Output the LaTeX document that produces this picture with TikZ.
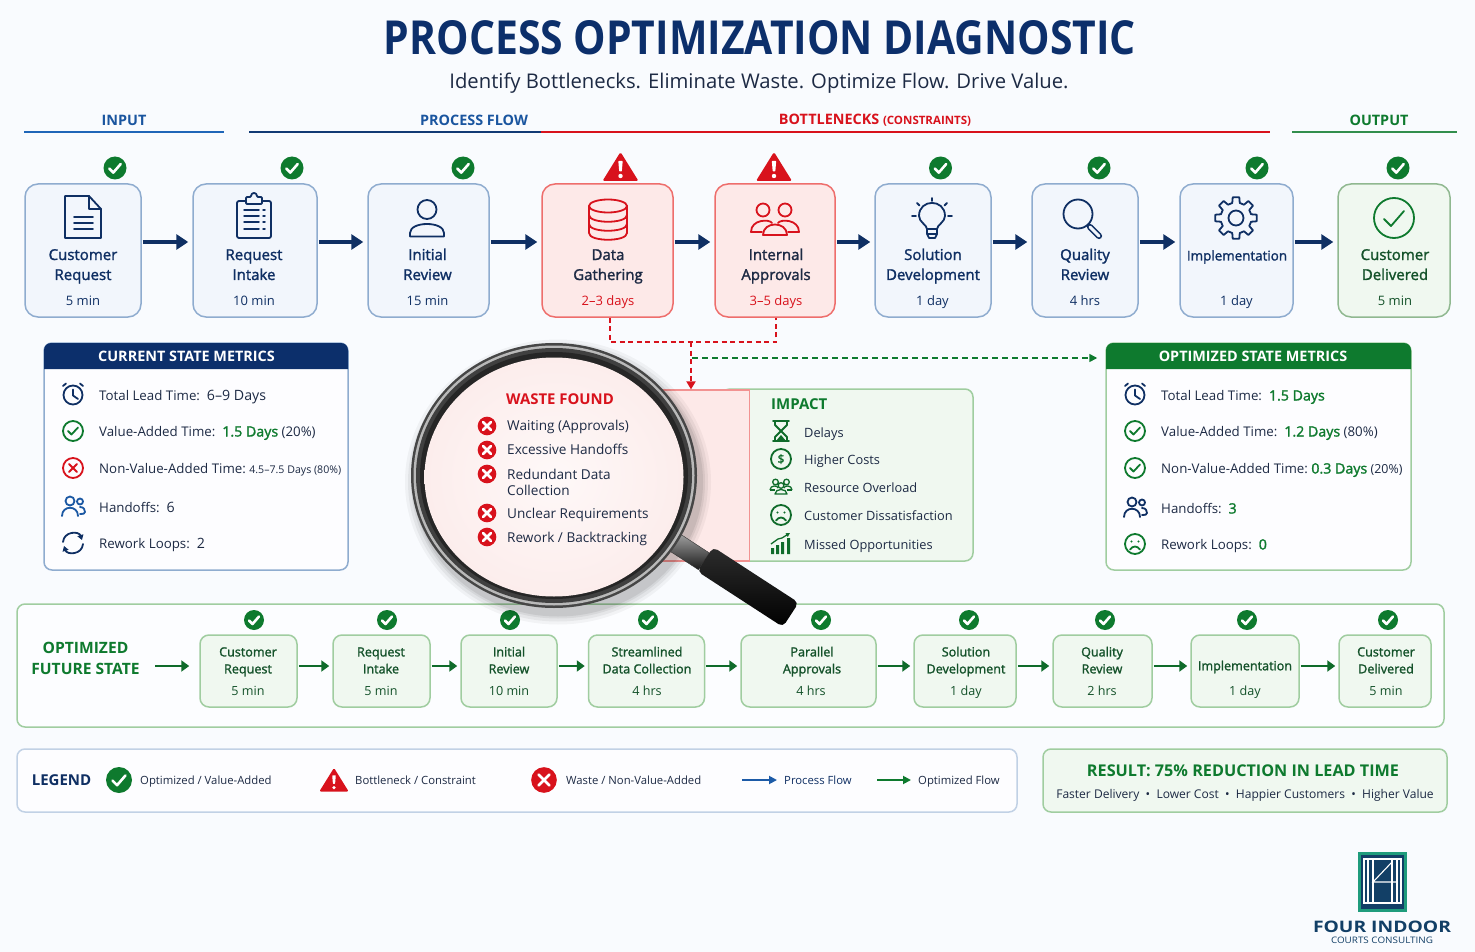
\documentclass[tikz,border=0pt]{standalone}
\usepackage{fontspec}
\usepackage{xcolor}
\setmainfont{Open Sans}
\newfontfamily\medfont[FakeBold=1.6]{Open Sans}
\usetikzlibrary{arrows.meta,shapes.geometric}
\definecolor{pagebg}{HTML}{F9FBFE}
\definecolor{navyc}{HTML}{0F2F63}
\definecolor{headnavy}{HTML}{0C2F6B}
\definecolor{inkc}{HTML}{1D2A44}
\definecolor{blueline}{HTML}{1F66B8}
\definecolor{blueedge}{HTML}{8FACCF}
\definecolor{bluefill}{HTML}{F2F6FC}
\definecolor{redc}{HTML}{D8121C}
\definecolor{rededge}{HTML}{EE6E6C}
\definecolor{redfill}{HTML}{FDE9E8}
\definecolor{glassedge}{HTML}{FCEDEC}
\definecolor{okc}{HTML}{0E7A2E}
\definecolor{okdark}{HTML}{14522A}
\definecolor{okarrow}{HTML}{0F6B2A}
\definecolor{okedge}{HTML}{A0CDA0}
\definecolor{okfill}{HTML}{F0F8F0}
\definecolor{logogreen}{HTML}{1F9C7C}
\definecolor{logonavy}{HTML}{123F66}
\newcommand{\okval}[1]{{\fontsize{14.2}{16}\selectfont\medfont\color{okc}#1}}
\newcommand{\inkval}[1]{{\fontsize{14.2}{16}\selectfont #1}}
\tikzset{
  stepbox/.style={draw=blueedge,fill=bluefill,line width=1.5pt,rounded corners=13pt,minimum height=133pt},
  redbox/.style={stepbox,draw=rededge,fill=redfill},
  donebox/.style={stepbox,draw=okedge!90!black,fill=okfill},
  futbox/.style={draw=okedge,fill=okfill,line width=1.5pt,rounded corners=9pt,minimum height=72pt},
  panel/.style={draw=blueedge,fill=white!60!pagebg,line width=1.5pt,rounded corners=8pt},
  okpanel/.style={panel,draw=okedge},
  steplabel/.style={align=center,text=navyc,inner sep=0pt,yshift=-1pt,font=\fontsize{15}{20}\selectfont\medfont},
  steptime/.style={text=navyc,inner sep=0pt,yshift=-2pt,text height=10pt,text depth=3pt,font=\fontsize{13}{16}\selectfont},
  futlabel/.style={align=center,text=okdark,inner sep=0pt,yshift=-1pt,font=\fontsize{12.6}{17}\selectfont\medfont},
  futtime/.style={text=okdark,inner sep=0pt,yshift=-2pt,text height=10pt,text depth=3pt,font=\fontsize{12.6}{16}\selectfont},
  headtext/.style={inner sep=0pt,yshift=-1pt,font=\fontsize{14.4}{17}\selectfont\bfseries},
  rowtext/.style={anchor=west,text=inkc,inner sep=0pt,yshift=-2pt,text height=10pt,text depth=3pt,font=\fontsize{13.3}{16}\selectfont},
  wastetext/.style={rowtext,font=\fontsize{13.6}{16}\selectfont},
  impacttext/.style={rowtext,font=\fontsize{12.8}{16}\selectfont},
  legtext/.style={anchor=west,text=inkc,inner sep=0pt,yshift=-1pt,text height=9pt,text depth=3pt,font=\fontsize{11.3}{14}\selectfont},
  flow/.style={-{Triangle[length=12pt,width=15pt]},line width=3pt,draw=navyc,shorten <=1pt,shorten >=4pt},
  fflow/.style={-{Triangle[length=8pt,width=11pt]},line width=2.5pt,draw=okarrow,shorten <=1pt,shorten >=3pt},
  legflow/.style={-{Triangle[length=8pt,width=8pt]},line width=1.8pt,shorten >=7pt},
  reddash/.style={draw=redc,line width=1.8pt,dash pattern=on 5pt off 3.5pt},
  greendash/.style={draw=okc,line width=1.6pt,dash pattern=on 6pt off 4pt},
  ln/.style={line width=1.8pt,line join=round,line cap=round},
  pics/okbadge/.style={code={
    \fill[okc] (0,0) circle (10);
    \draw[white,line width=2.6pt,line join=round,line cap=round] (-5,.5) -- (-1.5,4) -- (5,-3.5);}},
  pics/warnbadge/.style={code={
    \fill[redc,rounded corners=1.5pt] (0,-16) -- (18,13) -- (-18,13) -- cycle;
    \fill[white,rounded corners=.6pt] (-2.2,-7) -- (2.2,-7) -- (1.3,3.5) -- (-1.3,3.5) -- cycle;
    \fill[white] (0,8) circle (2.2);}},
  pics/wastebadge/.style={code={
    \fill[redc] (0,0) circle (9.5);
    \draw[white,line width=2.8pt,line cap=round] (-4,-4) -- (4,4) (4,-4) -- (-4,4);}},
  pics/docicon/.style={code={
    \draw[ln] (-18,-21) -- (6,-21) -- (18,-8) -- (18,21) -- (-18,21) -- cycle;
    \draw[ln] (6,-21) -- (6,-8) -- (18,-8);
    \draw[ln] (-9,0) -- (10,0) (-9,6) -- (10,6) (-9,12) -- (10,12);}},
  pics/clipicon/.style={code={
    \draw[ln,rounded corners=2pt] (-17,-16) rectangle (17,21);
    \draw[ln,fill=bluefill,rounded corners=1pt] (-8,-17) -- (-8,-20) -- (-3,-20) .. controls (-3,-25) and (3,-25) .. (3,-20) -- (8,-20) -- (8,-13) -- (-8,-13) -- cycle;
    \foreach \yy in {-7,-1,5,12} {\draw[ln,line width=1.5pt] (-10,\yy) -- (5,\yy) (9,\yy) -- (11,\yy);}}},
  pics/personicon/.style={code={
    \draw[ln] (0,-8.5) circle (9.5);
    \draw[ln] (-17,18.5) -- (-17,15) .. controls (-17,3) and (17,3) .. (17,15) -- (17,18.5) -- cycle;}},
  pics/dbicon/.style={code={
    \draw[ln] (0,-13) ellipse (19 and 6.5);
    \draw[ln] (-19,-13) -- (-19,14) .. controls (-19,23) and (19,23) .. (19,14) -- (19,-13);
    \draw[ln] (-19,-4) .. controls (-19,5) and (19,5) .. (19,-4);
    \draw[ln] (-19,5) .. controls (-19,14) and (19,14) .. (19,5);}},
  pics/groupicon/.style={code={
    \draw[ln] (-12,-8) circle (6.5) (10,-8) circle (6.5);
    \draw[ln] (-24,14) .. controls (-24,1) and (-5,1) .. (-3,5);
    \draw[ln] (-24,14) -- (-13,14) (24,14) -- (13,14);
    \draw[ln] (24,14) .. controls (24,1) and (5,1) .. (3,5);
    \draw[ln] (-12,17) .. controls (-12,3) and (12,3) .. (12,17) -- cycle;}},
  pics/bulbicon/.style={code={
    \draw[ln] (-5,10) .. controls (-5,6) and (-13,3) .. (-13,-3) .. controls (-13,-20.5) and (13,-20.5) .. (13,-3) .. controls (13,3) and (5,6) .. (5,10) -- cycle;
    \draw[ln] (-5,10) -- (-5,15) -- (-3,19) -- (3,19) -- (5,15) -- (5,10) (-5,15) -- (5,15);
    \draw[ln] (0,-21) -- (0,-18) (-20,-3) -- (-16,-3) (20,-3) -- (16,-3) (-15,-16) -- (-12.5,-13.5) (15,-16) -- (12.5,-13.5);}},
  pics/magicon/.style={code={
    \draw[ln] (0,0) circle (14.5);
    \draw[line width=1.6pt,double=bluefill,double distance=3pt,line cap=round] (12,13) -- (21,22);}},
  pics/gearicon/.style={code={
    \draw[ln] (-14:15.5) \foreach \aa in {0,45,...,315} {-- ({\aa-14}:15.5) -- ({\aa-9}:21) -- ({\aa+9}:21) -- ({\aa+14}:15.5)} -- cycle;
    \draw[ln] (0,0) circle (7.5);}},
  pics/bigcheck/.style={code={
    \draw[ln] (0,0) circle (20);
    \draw[ln] (-10,1) -- (-3,8) -- (10,-7);}},
  pics/clockicon/.style={code={
    \draw[ln] (0,1) circle (9.5);
    \draw[ln] (0,-4.5) -- (0,1.5) -- (5,5);
    \draw[ln] (-10,-8) -- (-7,-10.5) (10,-8) -- (7,-10.5);}},
  pics/tickring/.style={code={
    \draw[ln] (0,0) circle (10);
    \draw[ln] (-5,0) -- (-1.5,3.5) -- (5,-3.5);}},
  pics/crossring/.style={code={
    \draw[ln] (0,0) circle (10);
    \draw[ln] (-4,-4) -- (4,4) (4,-4) -- (-4,4);}},
  pics/teamicon/.style={code={
    \draw[ln] (-3,-6) circle (4.5) (7,-5.5) circle (3);
    \draw[ln] (-11,9) .. controls (-11,-2) and (5,-2) .. (5,9);
    \draw[ln] (7,0) .. controls (11,0) and (12,3) .. (12,5) .. controls (12,7) and (10,7) .. (7,7);}},
  pics/loopicon/.style={code={
    \draw[ln,-{Triangle[length=5pt,width=6pt]}] (-10,-1) .. controls (-9,-12) and (6,-12) .. (9,-3);
    \draw[ln,-{Triangle[length=5pt,width=6pt]}] (10,1) .. controls (9,12) and (-6,12) .. (-9,3);}},
  pics/sadicon/.style={code={
    \draw[ln] (0,0) circle (10);
    \fill (-3.5,-2.5) circle (1.2) (3.5,-2.5) circle (1.2);
    \draw[ln] (-5,5.5) .. controls (-2,1.5) and (2,1.5) .. (5,5.5);}},
  pics/glassicon/.style={code={
    \draw[ln] (-8,-10) -- (8,-10) (-8,10) -- (8,10);
    \draw[ln] (-6,-10) -- (-6,-6) -- (6,6) -- (6,10) (6,-10) -- (6,-6) -- (-6,6) -- (-6,10);
    \fill (-5,10) -- (0,4) -- (5,10) -- cycle;}},
  pics/dollaricon/.style={code={
    \draw[ln] (0,0) circle (10);
    \node[inner sep=0pt,font=\fontsize{12}{12}\selectfont\medfont] (dollar) at (0,0) {\$};}},
  pics/crowdicon/.style={code={
    \draw[line width=1.3pt] (-5.5,-5) circle (2.8) (5.5,-5) circle (2.8) (0,-1.5) circle (2.8);
    \draw[line width=1.3pt,line join=round] (-11,3) .. controls (-11,-2) and (-3,-2) .. (-3,1) (11,3) .. controls (11,-2) and (3,-2) .. (3,1);
    \draw[line width=1.3pt,line join=round] (-11,3) -- (-6,3) (11,3) -- (6,3);
    \draw[line width=1.3pt,line join=round] (-6,7) .. controls (-6,1) and (6,1) .. (6,7) -- cycle;}},
  pics/charticon/.style={code={
    \fill (-10,4) rectangle (-7,10) (-5,1) rectangle (-2,10) (0,-2) rectangle (3,10) (6,-6) rectangle (9,10);
    \draw[line width=1.3pt,-{Triangle[length=4pt,width=4pt]}] (-10,0) -- (-3,-5) -- (1,-6) -- (9,-11);}},
}
\begin{document}
\begin{tikzpicture}[x=1pt,y=-1pt]
    \useasboundingbox (0,0) rectangle (1475,952);
    \fill[pagebg] (0,0) rectangle (1475,952);

    % title
    \node[inner sep=0pt,text=headnavy] (title) at (760,38) {\resizebox{752pt}{34pt}{\bfseries PROCESS OPTIMIZATION DIAGNOSTIC}};
    \node[inner sep=0pt,yshift=-2pt,text=inkc,font=\fontsize{20.25}{24}\selectfont] (subtitle) at (759,81) {Identify Bottlenecks. Eliminate Waste. Optimize Flow. Drive Value.};

    % section heads
    \node[headtext,text=blueline!70!navyc] (hinput) at (124,119) {INPUT};
    \node[headtext,text=blueline!70!navyc] (hflow) at (474,119) {PROCESS FLOW};
    \node[headtext,text=redc] (hneck) at (875,119) {BOTTLENECKS {\fontsize{11.5}{14}\selectfont (CONSTRAINTS)}};
    \node[headtext,text=okc] (houtput) at (1379,119) {OUTPUT};
    \draw[blueline,line width=1.5pt] (24,132) -- (224,132);
    \draw[navyc!80!blueline,line width=1.5pt] (249,132) -- (541,132);
    \draw[redc,line width=1.5pt] (541,132) -- (1270,132);
    \draw[okc!85!white,line width=1.5pt] (1292,132) -- (1457,132);

    % current process
    \node[stepbox,minimum width=116pt] (b1) at (83,250.5) {};
    \node[stepbox,minimum width=124pt] (b2) at (255,250.5) {};
    \node[stepbox,minimum width=121pt] (b3) at (428.5,250.5) {};
    \node[redbox,minimum width=131pt] (b4) at (607.5,250.5) {};
    \node[redbox,minimum width=120pt] (b5) at (775,250.5) {};
    \node[stepbox,minimum width=116pt] (b6) at (933,250.5) {};
    \node[stepbox,minimum width=106pt] (b7) at (1085,250.5) {};
    \node[stepbox,minimum width=113pt] (b8) at (1236.5,250.5) {};
    \node[donebox,minimum width=112pt] (b9) at (1394,250.5) {};

    \node[steplabel] (l1) at (83,265) {Customer\strut\\Request\strut};
    \node[steplabel] (l2) at (254,265) {Request\strut\\Intake\strut};
    \node[steplabel] (l3) at (427.5,265) {Initial\strut\\Review\strut};
    \node[steplabel,text=inkc] (l4) at (608,265) {Data\strut\\Gathering\strut};
    \node[steplabel,text=inkc] (l5) at (776,265) {Internal\strut\\Approvals\strut};
    \node[steplabel] (l6) at (933,265) {Solution\strut\\Development\strut};
    \node[steplabel] (l7) at (1085,265) {Quality\strut\\Review\strut};
    \node[steplabel,font=\fontsize{13.4}{20}\selectfont\medfont] (l8) at (1237,256) {Implementation};
    \node[steplabel,text=okdark] (l9) at (1395,265) {Customer\strut\\Delivered\strut};

    \node[steptime] (t1) at (83,300) {5 min};
    \node[steptime] (t2) at (254,300) {10 min};
    \node[steptime] (t3) at (427.5,300) {15 min};
    \node[steptime,text=redc] (t4) at (608,300) {2--3 days};
    \node[steptime,text=redc] (t5) at (776,300) {3--5 days};
    \node[steptime] (t6) at (932.5,300) {1 day};
    \node[steptime] (t7) at (1085,300) {4 hrs};
    \node[steptime] (t8) at (1236.5,300) {1 day};
    \node[steptime,text=okdark] (t9) at (1395,300) {5 min};

    \pic[navyc] at (83,217) {docicon};
    \pic[navyc] at (254,217) {clipicon};
    \pic[navyc] at (427,218) {personicon};
    \pic[redc] at (608,219) {dbicon};
    \pic[redc] at (775,218) {groupicon};
    \pic[navyc] at (932,219) {bulbicon};
    \pic[navyc] at (1078,214) {magicon};
    \pic[navyc] at (1236,218) {gearicon};
    \pic[okc] at (1394,218) {bigcheck};

    \pic[scale=1.15] at (115,168) {okbadge};
    \pic[scale=1.15] at (292,168) {okbadge};
    \pic[scale=1.15] at (463,168) {okbadge};
    \pic at (620.5,168) {warnbadge};
    \pic at (774,168) {warnbadge};
    \pic[scale=1.15] at (940.5,168) {okbadge};
    \pic[scale=1.15] at (1099,168) {okbadge};
    \pic[scale=1.15] at (1257,168) {okbadge};
    \pic[scale=1.15] at (1398,168) {okbadge};

    \draw[flow] ([yshift=8.5pt]b1.east) -- ([yshift=8.5pt]b2.west);
    \draw[flow] ([yshift=8.5pt]b2.east) -- ([yshift=8.5pt]b3.west);
    \draw[flow] ([yshift=8.5pt]b3.east) -- ([yshift=8.5pt]b4.west);
    \draw[flow] ([yshift=8.5pt]b4.east) -- ([yshift=8.5pt]b5.west);
    \draw[flow] ([yshift=8.5pt]b5.east) -- ([yshift=8.5pt]b6.west);
    \draw[flow] ([yshift=8.5pt]b6.east) -- ([yshift=8.5pt]b7.west);
    \draw[flow] ([yshift=8.5pt]b7.east) -- ([yshift=8.5pt]b8.west);
    \draw[flow] ([yshift=8.5pt]b8.east) -- ([yshift=8.5pt]b9.west);

    % current metrics
    \node[panel,minimum width=304pt,minimum height=227pt] (curpanel) at (196,456.5) {};
    \fill[headnavy] (44,369) {[rounded corners=7pt] -- (44,343) -- (348,343)} -- (348,369) -- cycle;
    \node[headtext,text=white,yshift=1pt] (curhead) at (186.5,356) {CURRENT STATE METRICS};
    \pic[navyc] at (73,394) {clockicon};
    \pic[okc] at (73,431) {tickring};
    \pic[redc] at (73,468) {crossring};
    \pic[blueline!75!navyc] at (73,507) {teamicon};
    \pic[navyc] at (73,543) {loopicon};
    \node[rowtext] (c1) at (99,395) {Total Lead Time:\ \ \inkval{6--9 Days}};
    \node[rowtext] (c2) at (99,431) {Value-Added Time:\ \ \okval{1.5 Days} (20\%)};
    \node[rowtext] (c3) at (99,468) {Non-Value-Added Time:\ {\fontsize{10.6}{12}\selectfont 4.5--7.5 Days (80\%)}};
    \node[rowtext] (c4) at (99,507) {Handoffs:\ \ \inkval{6}};
    \node[rowtext] (c5) at (99,543) {Rework Loops:\ \ \inkval{2}};

    % optimized metrics
    \node[okpanel,minimum width=305pt,minimum height=227pt] (optpanel) at (1258.5,456.5) {};
    \fill[okc] (1106,369) {[rounded corners=7pt] -- (1106,343) -- (1411,343)} -- (1411,369) -- cycle;
    \node[headtext,text=white,yshift=1pt] (opthead) at (1253,356) {OPTIMIZED STATE METRICS};
    \pic[navyc] at (1135,394) {clockicon};
    \pic[okc] at (1135,431) {tickring};
    \pic[okc] at (1135,468) {tickring};
    \pic[navyc] at (1135,508) {teamicon};
    \pic[okc] at (1135,544) {sadicon};
    \node[rowtext] (o1) at (1161,395) {Total Lead Time:\ \ \okval{1.5 Days}};
    \node[rowtext] (o2) at (1161,431) {Value-Added Time:\ \ \okval{1.2 Days} (80\%)};
    \node[rowtext] (o3) at (1161,468) {Non-Value-Added Time:\ \okval{0.3 Days} {\fontsize{12.4}{12}\selectfont(20\%)}};
    \node[rowtext] (o4) at (1161,508) {Handoffs:\ \ \okval{3}};
    \node[rowtext] (o5) at (1161,544) {Rework Loops:\ \ \okval{0}};

    % impact panel and waste panel behind the lens
    \node[okpanel,fill=okfill,minimum width=251pt,minimum height=172pt] (impact) at (847.5,475) {};
    \node[fill=redfill,draw=rededge!75!white,line width=1.2pt,minimum width=109pt,minimum height=171pt] (waste) at (695,475.5) {};
    \node[anchor=west,inner sep=0pt,text=okc,font=\fontsize{15}{18}\selectfont\bfseries] (imphead) at (771,404) {IMPACT};
    \pic[okarrow] at (781,431) {glassicon};
    \pic[okarrow] at (781,459) {dollaricon};
    \pic[okarrow] at (781,487) {crowdicon};
    \pic[okarrow] at (781,515) {sadicon};
    \pic[okarrow] at (781,544) {charticon};
    \node[impacttext] (i1) at (804,432) {Delays};
    \node[impacttext] (i2) at (804,459) {Higher Costs};
    \node[impacttext] (i3) at (804,487) {Resource Overload};
    \node[impacttext] (i4) at (804,515) {Customer Dissatisfaction};
    \node[impacttext] (i5) at (804,544) {Missed Opportunities};

    % dashed links
    \coordinate (split) at (691,342);
    \coordinate (gostart) at (692,358);
    \draw[reddash] ([xshift=2.5pt]b4.south) -- ++(0,24.5) -| ([xshift=1pt]b5.south);
    \draw[reddash,-{Triangle[length=8pt,width=9pt]}] (split) -- (split |- waste.north);
    \draw[greendash,-{Triangle[length=8pt,width=8pt]},shorten >=8pt] (gostart) -- (gostart -| optpanel.west);

    % future state
    \node[okpanel,fill=white!55!pagebg,minimum width=1427pt,minimum height=123pt] (future) at (730.5,665.5) {};
    \node[futbox,minimum width=97pt] (f1) at (248.5,671) {};
    \node[futbox,minimum width=97pt] (f2) at (381.5,671) {};
    \node[futbox,minimum width=96pt] (f3) at (509,671) {};
    \node[futbox,minimum width=116pt] (f4) at (646.5,671) {};
    \node[futbox,minimum width=135pt] (f5) at (808.5,671) {};
    \node[futbox,minimum width=102pt] (f6) at (965,671) {};
    \node[futbox,minimum width=99pt] (f7) at (1102.5,671) {};
    \node[futbox,minimum width=108pt] (f8) at (1245,671) {};
    \node[futbox,minimum width=92pt] (f9) at (1385,671) {};
    \node[align=center,inner sep=0pt,yshift=-1pt,text=okc,font=\fontsize{15.6}{20.5}\selectfont\bfseries] (flabel) at (85.5,659) {OPTIMIZED\strut\\FUTURE STATE\strut};

    \node[futlabel] (g1) at (248,660.5) {Customer\strut\\Request\strut};
    \node[futlabel] (g2) at (381,660.5) {Request\strut\\Intake\strut};
    \node[futlabel] (g3) at (509,660.5) {Initial\strut\\Review\strut};
    \node[futlabel] (g4) at (647,660.5) {Streamlined\strut\\Data Collection\strut};
    \node[futlabel] (g5) at (812,660.5) {Parallel\strut\\Approvals\strut};
    \node[futlabel] (g6) at (966,660.5) {Solution\strut\\Development\strut};
    \node[futlabel] (g7) at (1102,660.5) {Quality\strut\\Review\strut};
    \node[futlabel] (g8) at (1245,666) {Implementation};
    \node[futlabel] (g9) at (1386,660.5) {Customer\strut\\Delivered\strut};

    \node[futtime] (h1) at (248,690) {5 min};
    \node[futtime] (h2) at (381,690) {5 min};
    \node[futtime] (h3) at (509,690) {10 min};
    \node[futtime] (h4) at (647,690) {4 hrs};
    \node[futtime] (h5) at (811,690) {4 hrs};
    \node[futtime] (h6) at (966,690) {1 day};
    \node[futtime] (h7) at (1102,690) {2 hrs};
    \node[futtime] (h8) at (1245,690) {1 day};
    \node[futtime] (h9) at (1386,690) {5 min};

    \pic at (254,620) {okbadge};
    \pic at (387,620) {okbadge};
    \pic at (510,620) {okbadge};
    \pic at (648,620) {okbadge};
    \pic at (821,620) {okbadge};
    \pic at (969,620) {okbadge};
    \pic at (1105,620) {okbadge};
    \pic at (1247,620) {okbadge};
    \pic at (1388,620) {okbadge};

    \coordinate (fstart) at (155,666);
    \draw[fflow,shorten <=0pt,shorten >=10pt] (fstart) -- (fstart -| f1.west);
    \draw[fflow] ([yshift=5pt]f1.east) -- ([yshift=5pt]f2.west);
    \draw[fflow] ([yshift=5pt]f2.east) -- ([yshift=5pt]f3.west);
    \draw[fflow] ([yshift=5pt]f3.east) -- ([yshift=5pt]f4.west);
    \draw[fflow] ([yshift=5pt]f4.east) -- ([yshift=5pt]f5.west);
    \draw[fflow] ([yshift=5pt]f5.east) -- ([yshift=5pt]f6.west);
    \draw[fflow] ([yshift=5pt]f6.east) -- ([yshift=5pt]f7.west);
    \draw[fflow] ([yshift=5pt]f7.east) -- ([yshift=5pt]f8.west);
    \draw[fflow] ([yshift=5pt]f8.east) -- ([yshift=5pt]f9.west);

    % magnifier
    \foreach \gap/\opa in {10/.04,7/.05,4/.06,2/.07} {
      \fill[black,opacity=\opa] (558,482) ellipse ({143+\gap} and {132.5+\gap});
    }
    \node[rotate=-33,draw=gray!40!black,top color=gray!70,bottom color=gray!20!black,minimum width=38pt,minimum height=20pt,inner sep=0pt] (collar) at (688,551) {};
    \node[rotate=-33,top color=gray!35!black,middle color=black!90,bottom color=black,rounded corners=5pt,minimum width=102pt,minimum height=29pt,inner sep=0pt] (grip) at (748,587) {};
    \fill[gray!55!black] (554,475.5) ellipse (143 and 132.5);
    \fill[gray!55] (554,475.5) ellipse (140.5 and 130);
    \fill[gray!50!black] (554,475.5) ellipse (138 and 127.5);
    \fill[black!85] (554,475.5) ellipse (134 and 123.5);
    \shade[inner color=redfill!30!white,outer color=glassedge] (554,477) ellipse (129.5 and 119.5);

    \node[anchor=west,inner sep=0pt,text=redc,font=\fontsize{14.9}{18}\selectfont\bfseries] (wastehead) at (506,399) {WASTE FOUND};
    \pic[scale=.98] at (487,426) {wastebadge};
    \pic[scale=.98] at (487,450) {wastebadge};
    \pic[scale=.98] at (487,474) {wastebadge};
    \pic[scale=.98] at (487,513) {wastebadge};
    \pic[scale=.98] at (487,537) {wastebadge};
    \node[wastetext] (w1) at (507,425) {Waiting (Approvals)};
    \node[wastetext] (w2) at (507,449) {Excessive Handoffs};
    \node[wastetext] (w3) at (507,473.5) {Redundant Data};
    \node[wastetext] (w4) at (507,490) {Collection};
    \node[wastetext] (w5) at (507,513) {Unclear Requirements};
    \node[wastetext] (w6) at (507,537) {Rework / Backtracking};

    % legend
    \node[panel,draw=blueedge!55!white,minimum width=1000pt,minimum height=63pt] (legend) at (517,780.5) {};
    \node[inner sep=0pt,text=navyc,font=\fontsize{15}{18}\selectfont\bfseries] (legtitle) at (61.5,780) {LEGEND};
    \pic[scale=1.3] at (119,780) {okbadge};
    \pic[scale=.82] at (334,781) {warnbadge};
    \pic[scale=1.35] at (544,780) {wastebadge};
    \node[legtext] (lg1) at (140,780) {Optimized / Value-Added};
    \node[legtext] (lg2) at (355,780) {Bottleneck / Constraint};
    \node[legtext] (lg3) at (566,780) {Waste / Non-Value-Added};
    \coordinate (lga) at (742,780);
    \coordinate (lgb) at (877,780);
    \node[legtext,text=navyc] (lg4) at (784,780) {Process Flow};
    \node[legtext] (lg5) at (918,780) {Optimized Flow};
    \draw[legflow,draw=blueline!80!navyc] (lga) -- (lga -| lg4.west);
    \draw[legflow,draw=okc] (lgb) -- (lgb -| lg5.west);

    % result
    \node[okpanel,fill=okfill,minimum width=404pt,minimum height=63pt] (result) at (1245,780.5) {};
    \node[inner sep=0pt,yshift=-1pt,text=okc,font=\fontsize{16.2}{19}\selectfont\bfseries] (restitle) at (1243,770) {RESULT: 75\% REDUCTION IN LEAD TIME};
    \node[inner sep=0pt,yshift=-1pt,text=inkc,font=\fontsize{12.05}{14}\selectfont] (restext) at (1245,794) {Faster Delivery\ \ •\ \ Lower Cost\ \ •\ \ Happier Customers\ \ •\ \ Higher Value};

    % logo
    \fill[logogreen] (1358,852) rectangle (1407,912);
    \fill[logonavy] (1361,855) rectangle (1404,909);
    \draw[white,line width=1.1pt] (1364,859) rectangle (1401,903);
    \draw[white,line width=1.1pt] (1368,859) -- (1368,903) (1373,859) -- (1373,903) (1392,859) -- (1392,903) (1397,859) -- (1397,903);
    \draw[white,line width=1.1pt] (1392,862) -- (1373,882) -- (1397,882);
    \node[inner sep=0pt,text=logonavy] (logoa) at (1382,926.5) {\resizebox{138pt}{11.5pt}{\bfseries FOUR INDOOR}};
    \node[inner sep=0pt,text=logonavy] (logob) at (1382,940) {\resizebox{102pt}{6.5pt}{COURTS CONSULTING}};
\end{tikzpicture}
\end{document}
